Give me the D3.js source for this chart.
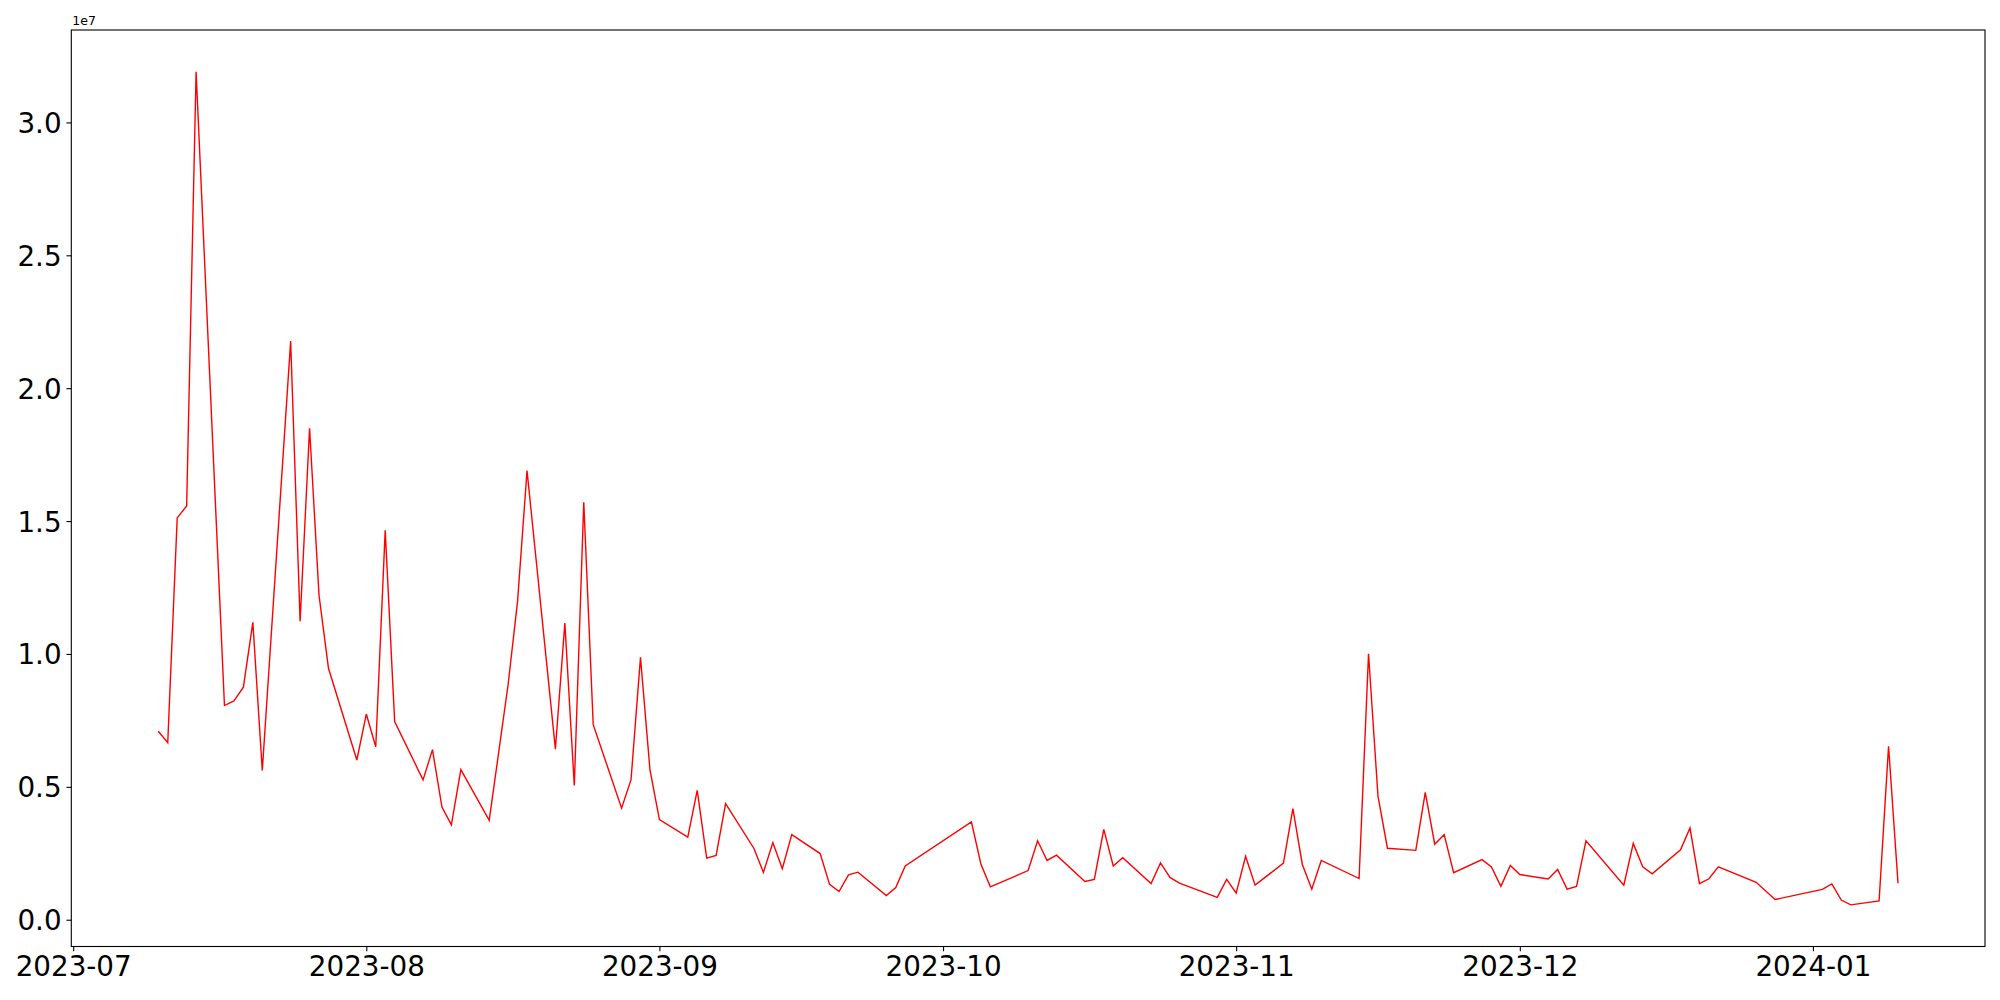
<!DOCTYPE html>
<html>
<head>
<meta charset="utf-8">
<script src="https://cdnjs.cloudflare.com/ajax/libs/d3/7.8.5/d3.min.js"></script>
<style>
  body { margin: 0; background: #ffffff; }
  text { font-family: "DejaVu Sans", sans-serif; }
</style>
</head>
<body>
<div id="line_chart"></div>
<script>
// trading days
var dates = [
  "2023-07-10","2023-07-11","2023-07-12","2023-07-13","2023-07-14",
  "2023-07-17","2023-07-18","2023-07-19","2023-07-20","2023-07-21",
  "2023-07-24","2023-07-25","2023-07-26","2023-07-27","2023-07-28",
  "2023-07-31","2023-08-01","2023-08-02","2023-08-03","2023-08-04",
  "2023-08-07","2023-08-08","2023-08-09","2023-08-10","2023-08-11",
  "2023-08-14","2023-08-16","2023-08-17","2023-08-18",
  "2023-08-21","2023-08-22","2023-08-23","2023-08-24","2023-08-25",
  "2023-08-28","2023-08-29","2023-08-30","2023-08-31","2023-09-01",
  "2023-09-04","2023-09-05","2023-09-06","2023-09-07","2023-09-08",
  "2023-09-11","2023-09-12","2023-09-13","2023-09-14","2023-09-15",
  "2023-09-18","2023-09-19","2023-09-20","2023-09-21","2023-09-22",
  "2023-09-25","2023-09-26","2023-09-27",
  "2023-10-04","2023-10-05","2023-10-06",
  "2023-10-10","2023-10-11","2023-10-12","2023-10-13",
  "2023-10-16","2023-10-17","2023-10-18","2023-10-19","2023-10-20",
  "2023-10-23","2023-10-24","2023-10-25","2023-10-26",
  "2023-10-30","2023-10-31","2023-11-01","2023-11-02","2023-11-03",
  "2023-11-06","2023-11-07","2023-11-08","2023-11-09","2023-11-10",
  "2023-11-14","2023-11-15","2023-11-16","2023-11-17",
  "2023-11-20","2023-11-21","2023-11-22","2023-11-23","2023-11-24",
  "2023-11-27","2023-11-28","2023-11-29","2023-11-30","2023-12-01",
  "2023-12-04","2023-12-05","2023-12-06","2023-12-07","2023-12-08",
  "2023-12-12","2023-12-13","2023-12-14","2023-12-15",
  "2023-12-18","2023-12-19","2023-12-20","2023-12-21","2023-12-22",
  "2023-12-26","2023-12-28",
  "2024-01-02","2024-01-03","2024-01-04","2024-01-05",
  "2024-01-08","2024-01-09","2024-01-10"
];

// values in units of 1e7
var values = [
  0.709, 0.666, 1.512, 1.557, 3.191,
  0.806, 0.823, 0.875, 1.119, 0.562,
  2.177, 1.123, 1.849, 1.221, 0.946,
  0.601, 0.774, 0.651, 1.465, 0.746,
  0.526, 0.640, 0.424, 0.357, 0.565,
  0.374, 0.885, 1.199, 1.690,
  0.642, 1.116, 0.505, 1.571, 0.734,
  0.420, 0.527, 0.987, 0.565, 0.377,
  0.311, 0.487, 0.232, 0.242, 0.437,
  0.268, 0.178, 0.290, 0.192, 0.320,
  0.249, 0.133, 0.106, 0.169, 0.179,
  0.091, 0.121, 0.202,
  0.368, 0.210, 0.124,
  0.185, 0.297, 0.223, 0.243,
  0.144, 0.152, 0.340, 0.202, 0.233,
  0.136, 0.214, 0.159, 0.138,
  0.084, 0.152, 0.100, 0.239, 0.130,
  0.213, 0.418, 0.208, 0.115, 0.223,
  0.155, 1.001, 0.465, 0.269,
  0.261, 0.479, 0.284, 0.320, 0.177,
  0.226, 0.199, 0.126, 0.204, 0.170,
  0.153, 0.189, 0.115, 0.125, 0.297,
  0.130, 0.287, 0.199, 0.173,
  0.263, 0.345, 0.136, 0.154, 0.199,
  0.141, 0.076,
  0.114, 0.135, 0.074, 0.056,
  0.071, 0.653, 0.137
];

var yTicks = [0, 0.5, 1.0, 1.5, 2.0, 2.5, 3.0];
var xTicks = ["2023-07-01","2023-08-01","2023-09-01","2023-10-01","2023-11-01","2023-12-01","2024-01-01"];
var offsetLabel = "1e7";

function drawChart() {
  var parse = d3.timeParse("%Y-%m-%d");
  var data = dates.map(function(d, i) {
    return { date: parse(d), value: values[i] };
  });

  // figure is 2000x1000, axes box like matplotlib tight layout
  var margin = {top: 30, right: 15, bottom: 53.5, left: 71.3},
      width = 2000 - margin.left - margin.right,
      height = 1000 - margin.top - margin.bottom;

  var fontSize = 27.78;
  var tickLen = 4.86;

  var svg = d3.select("#line_chart")
    .append("svg")
      .attr("width", 2000)
      .attr("height", 1000)
    .append("g")
      .attr("transform", "translate(" + margin.left + "," + margin.top + ")");

  // 5% margins on both axes, as matplotlib does
  var xExt = d3.extent(data, function(d) { return d.date; });
  var xPad = (xExt[1] - xExt[0]) * 0.05;
  var xScale = d3.scaleTime()
    .domain([new Date(+xExt[0] - xPad), new Date(+xExt[1] + xPad)])
    .range([0, width]);

  var yExt = d3.extent(data, function(d) { return d.value; });
  var yPad = (yExt[1] - yExt[0]) * 0.05;
  var yScale = d3.scaleLinear()
    .domain([yExt[0] - yPad, yExt[1] + yPad])
    .range([height, 0]);

  // X axis
  var xAxis = svg.append("g")
    .attr("transform", "translate(0," + height + ")")
    .call(d3.axisBottom(xScale)
      .tickValues(xTicks.map(parse))
      .tickFormat(d3.timeFormat("%Y-%m"))
      .tickSize(tickLen)
      .tickPadding(tickLen));
  xAxis.select(".domain").remove();
  xAxis.selectAll("line").attr("stroke", "#000").attr("stroke-width", 1.1);
  xAxis.selectAll("text")
    .attr("fill", "#000")
    .style("font-size", fontSize + "px")
    .style("font-family", "DejaVu Sans");

  // Y axis
  var yAxis = svg.append("g")
    .call(d3.axisLeft(yScale)
      .tickValues(yTicks)
      .tickFormat(d3.format(".1f"))
      .tickSize(tickLen)
      .tickPadding(tickLen));
  yAxis.select(".domain").remove();
  yAxis.selectAll("line").attr("stroke", "#000").attr("stroke-width", 1.1);
  yAxis.selectAll("text")
    .attr("fill", "#000")
    .attr("dy", "0.36em")
    .style("font-size", fontSize + "px")
    .style("font-family", "DejaVu Sans");

  // offset text above the axes
  svg.append("text")
    .attr("x", 1)
    .attr("y", -5)
    .style("font-size", "12.5px")
    .style("font-family", "DejaVu Sans")
    .attr("fill", "#000")
    .text(offsetLabel);

  // the line
  svg.append("path")
    .datum(data)
    .attr("fill", "none")
    .attr("stroke", "#ff0000")
    .attr("stroke-width", 1.4)
    .attr("stroke-linejoin", "miter")
    .attr("d", d3.line()
      .x(function(d) { return xScale(d.date); })
      .y(function(d) { return yScale(d.value); })
    );

  // frame
  svg.append("rect")
    .attr("width", width)
    .attr("height", height)
    .attr("fill", "none")
    .attr("stroke", "#000")
    .attr("stroke-width", 1.1);
}

drawChart();
</script>
</body>
</html>
